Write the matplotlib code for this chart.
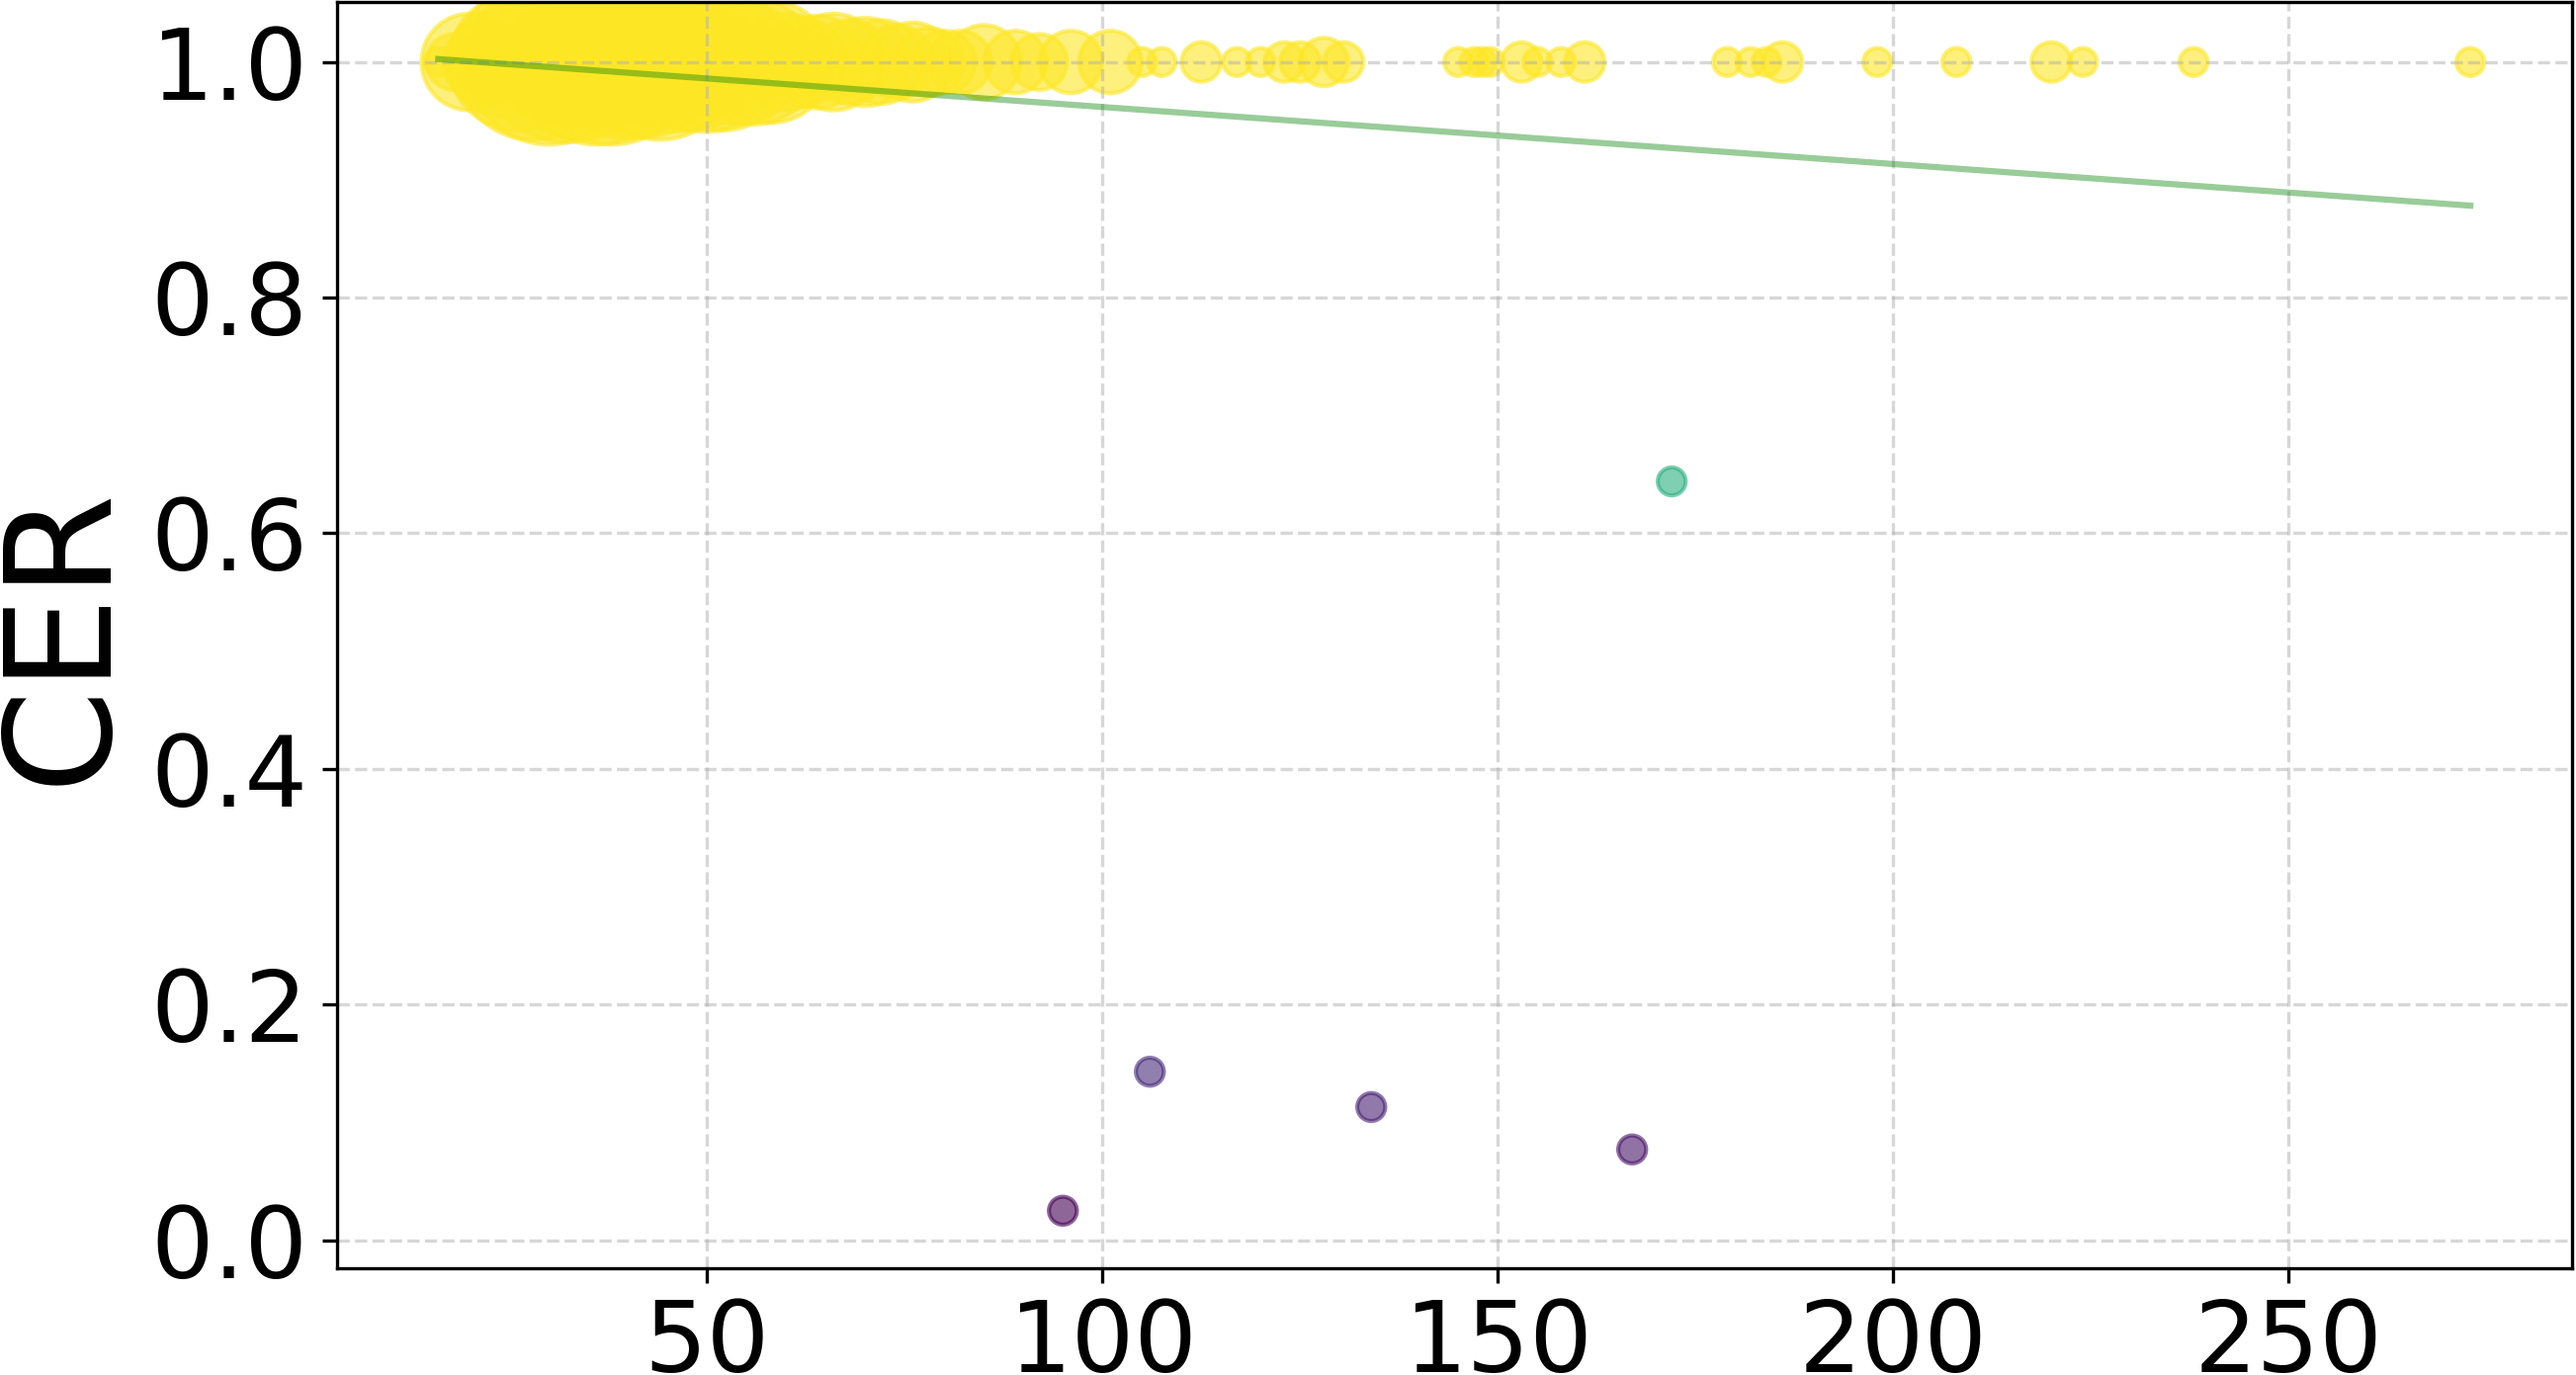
import numpy as np
import matplotlib.pyplot as plt

# points at CER = 1.0 (x position, number of samples)
full_x = [16, 18, 20, 22, 24, 26, 28, 30, 32, 34, 36, 38, 40, 42, 44, 46, 48,
          50, 52, 54, 56, 58, 60, 62, 64, 66, 68, 70, 72, 74, 76, 78, 80, 82,
          85, 89, 92, 96, 101, 105, 107.5, 112.5, 117, 120, 123, 125, 128,
          130.5, 145, 147, 148, 149, 153, 155, 158, 161, 179, 182, 184, 186,
          198, 208, 220, 224, 238, 273]
full_counts = [1, 4, 12, 9, 15, 24, 31, 35, 33, 31, 35, 35, 30, 29, 31, 25,
               24, 25, 24, 20, 20, 19, 12, 10, 11, 12, 9, 10, 9, 7, 8, 6, 5,
               5, 7, 5, 4, 5, 5, 1, 1, 2, 1, 1, 2, 2, 3, 2, 1, 1, 1, 1, 2, 1,
               1, 2, 1, 1, 1, 2, 1, 1, 2, 1, 1, 1]

# the few points below 1.0
low_x = [95, 106, 134, 167, 172]
low_cer = [0.025, 0.143, 0.113, 0.077, 0.644]
low_counts = [1, 1, 1, 1, 1]

# linear trend (slope, intercept)
trend_coef = [-0.000484, 1.0102]

x = np.array(full_x + low_x, dtype=float)
cer = np.array([1.0] * len(full_x) + low_cer)
counts = np.array(full_counts + low_counts)

fig = plt.figure(figsize=(2606 / 300, 1391 / 300), dpi=300)
ax = fig.add_axes([0.1307, 0.0776, 0.8677, 0.9213])

ax.scatter(x, cer, c=cer, cmap="viridis", s=counts * 46, alpha=0.6)

tx = np.array([x.min(), x.max()])
ax.plot(tx, np.polyval(trend_coef, tx), color="green", alpha=0.4, linewidth=1.5)

ax.set_ylabel("CER", fontsize=36)
ax.tick_params(labelsize=24)
ax.grid(True, linestyle="--", alpha=0.5)

fig.savefig("out.png", dpi=300)
